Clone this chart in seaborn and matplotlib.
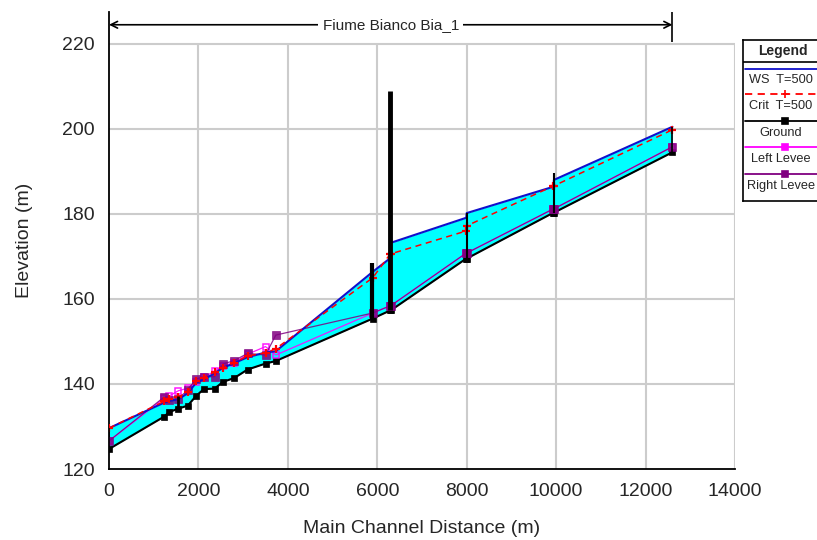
import matplotlib
matplotlib.use("Agg")
import matplotlib.pyplot as plt
from matplotlib.ticker import FixedLocator
import seaborn as sns
import numpy as np

# profile data (main channel distance in m, elevations in m)
station = [0, 1230, 1350, 1550, 1760, 1950, 2120, 2360, 2550, 2800, 3100, 3500, 3730,
           5900, 6290, 6300, 7990, 8000, 9940, 9950, 12600]
ground = [124.7, 132.3, 133.4, 134.2, 134.9, 137.2, 138.8, 138.9, 140.5, 141.4, 143.4, 144.8, 145.4,
          155.4, 157.3, 157.3, 169.5, 169.5, 180.3, 180.3, 194.5]
ws = [129.6, 135.6, 136.0, 136.4, 137.8, 140.3, 141.1, 142.5, 143.8, 144.9, 146.3, 147.4, 147.7,
      166.4, 169.6, 173.2, 179.1, 180.2, 186.4, 188.0, 200.5]
crit = [129.6, 135.9, 136.4, 137.0, 138.0, 140.8, 141.5, 142.8, 143.8, 145.0, 146.6, 147.3, 148.3,
        165.0, 170.6, 170.6, 176.0, 177.2, 186.6, 186.6, 199.8]
left_levee = [126.6, 136.6, 137.2, 138.4, 139.0, 140.5, 141.6, 143.0, 144.3, 145.0, 147.0, 148.8, 146.8,
              156.7, 158.4, 158.4, 170.8, 170.8, 181.2, 181.2, 195.8]
right_levee = [126.6, 136.9, 136.2, 136.5, 138.6, 141.2, 141.7, 141.7, 144.7, 145.5, 147.2, 146.8, 151.5,
               156.7, 158.4, 158.4, 170.8, 170.8, 181.2, 181.2, 195.8]

# bridges / structures drawn as vertical bars
bar_x = [0, 1550, 5890, 6290, 8000, 9950, 12600]
bar_bottom = [124.7, 134.2, 155.4, 157.3, 169.5, 180.3, 194.5]
bar_top = [129.6, 137.2, 168.5, 208.9, 180.2, 189.6, 200.5]
bar_w = [1.2, 2.0, 3.0, 3.5, 1.5, 1.5, 1.2]

xticks = [0, 2000, 4000, 6000, 8000, 10000, 12000, 14000]
yticks = [120, 140, 160, 180, 200, 220]
reach_name = "Fiume Bianco Bia_1"

sns.set_style("white")
plt.rcParams['font.family'] = ['Liberation Sans', 'DejaVu Sans']

fig = plt.figure(figsize=(8.17, 5.40), dpi=100)
ax = fig.add_axes([109 / 817, 1 - 469 / 540, 626 / 817, 457 / 540])

# grid box (stops at 220)
ax.vlines(xticks[1:], 120, 220, colors='#cccccc', lw=1.5, zorder=0)
ax.hlines(yticks[1:], 0, 14000, colors='#cccccc', lw=1.5, zorder=0)

ax.fill_between(station, ground, ws, color='#00ffff', lw=0, zorder=1)

sns.lineplot(x=station, y=ground, ax=ax, sort=False, estimator=None, color='black',
             lw=1.5, marker='s', markersize=5, markeredgecolor='black', markeredgewidth=0.5, zorder=3)
sns.lineplot(x=station, y=left_levee, ax=ax, sort=False, estimator=None, color='#ff00ff',
             lw=0.9, marker='s', markersize=5, markerfacecolor='none', markeredgecolor='#ff00ff',
             markeredgewidth=1.1, alpha=0.9, zorder=3)
sns.lineplot(x=station, y=right_levee, ax=ax, sort=False, estimator=None, color='#800080',
             lw=0.9, marker='s', markersize=5.5, markeredgecolor='#800080', markeredgewidth=0.5,
             alpha=0.85, zorder=3)
sns.lineplot(x=station, y=ws, ax=ax, sort=False, estimator=None, color='#1010cc',
             lw=1.5, zorder=4)
sns.lineplot(x=station, y=crit, ax=ax, sort=False, estimator=None, color='#ff0000',
             lw=1.1, ls=(0, (4, 3)), marker='+', markersize=6, markeredgecolor='#ff0000',
             markeredgewidth=1.6, zorder=5)

ax.vlines(bar_x, bar_bottom, bar_top, colors='black', linewidth=bar_w, zorder=6)

ax.set_xlim(0, 14000)
ax.set_ylim(120, 227.5)
ax.set_xticks(xticks)
ax.set_yticks(yticks)
ax.xaxis.set_minor_locator(FixedLocator(np.arange(0, 14001, 400)))
ax.yaxis.set_minor_locator(FixedLocator(np.arange(120, 221, 4)))
ax.tick_params(axis='both', which='major', direction='out', length=6, width=1.2,
               labelsize=14, pad=4, color='black')
ax.tick_params(axis='both', which='minor', direction='out', length=5, width=1.2, color='black')
for s in ['top', 'right']:
    ax.spines[s].set_visible(False)
for s in ['left', 'bottom']:
    ax.spines[s].set_color('black')
    ax.spines[s].set_linewidth(1.3)

ax.set_xlabel("Main Channel Distance (m)", fontsize=14)
ax.set_ylabel("Elevation (m)", fontsize=14)
ax.xaxis.set_label_coords(0.5, -0.112)
ax.yaxis.set_label_coords(-0.121, 0.5)

# reach annotation
ax.annotate("", xy=(0, 224.5), xytext=(12600, 224.5),
            arrowprops=dict(arrowstyle='<->', color='black', lw=1.2,
                            shrinkA=0, shrinkB=0, mutation_scale=12),
            annotation_clip=False)
ax.vlines([12600], 220.4, 227.5, colors='black', lw=1.2, clip_on=False)
ax.text(6300, 224.5, reach_name, ha='center', va='center', fontsize=11,
        bbox=dict(facecolor='white', edgecolor='none', pad=3), zorder=7)

# custom legend box
lax = fig.add_axes([743 / 817, 1 - 201 / 540, 80 / 817, 161 / 540])
lax.set_xlim(743, 823)
lax.set_ylim(201, 40)
lax.set_xticks([])
lax.set_yticks([])
for s in lax.spines.values():
    s.set_color('black')
    s.set_linewidth(1.2)
    s.set_visible(True)
lax.text(783, 51, "Legend", ha='center', va='center', fontsize=10, fontweight='bold')
lax.axhline(62, color='black', lw=1.2)

leg_items = [
    ("WS  T=500", '#1010cc', '-', None, 'none'),
    ("Crit  T=500", '#ff0000', (0, (4, 3)), '+', '#ff0000'),
    ("Ground", 'black', '-', 's', 'black'),
    ("Left Levee", '#ff00ff', '-', 's', '#ff00ff'),
    ("Right Levee", '#800080', '-', 's', '#800080'),
]
line_y = [69, 94, 121, 147, 174]
text_y = [80, 106, 133, 159, 186]
for (lab, col, ls, mk, mfc), ly, ty in zip(leg_items, line_y, text_y):
    lax.plot([745, 823], [ly, ly], color=col, ls=ls, lw=1.3)
    if mk is not None:
        lax.plot([785], [ly], marker=mk, color=col, markerfacecolor=mfc, markeredgecolor=col,
                 markersize=4.5 if mk == 's' else 6, markeredgewidth=1.2)
    lax.text(781, ty, lab, ha='center', va='center', fontsize=9.2)

fig.savefig("out.png", dpi=100)
